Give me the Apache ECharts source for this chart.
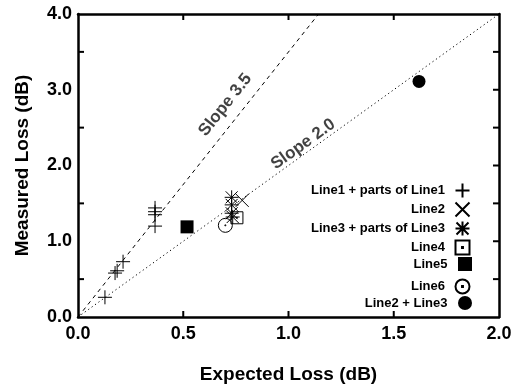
<!DOCTYPE html>
<html><head><meta charset="utf-8">
<script src="https://cdn.jsdelivr.net/npm/echarts@6/dist/echarts.min.js"></script>
<style>html,body{margin:0;padding:0;background:#fff}#c{width:523px;height:389px}</style>
</head><body><div id="c"></div>
<script>
// ---- data ----
const xTicks = [0, 0.5, 1.0, 1.5, 2.0];
const yTicks = [0, 1.0, 2.0, 3.0, 4.0];
const xTickMarks = [0.5, 1.0, 1.5];
const yTickMarksLeft = [0.5, 1.5, 2.5, 3.5];
const yTickMarksRight = [0.5, 1.0, 1.5, 2.0, 2.5, 3.0, 3.5];
const line1 = [[0.128,0.26],[0.176,0.58],[0.186,0.61],[0.214,0.73],[0.366,1.44],[0.366,1.39],[0.366,1.35],[0.366,1.20]];
const line2 = [[0.78,1.54]];
const line3 = [[0.73,1.58],[0.73,1.48],[0.73,1.37],[0.735,1.32]];
const line4 = [[0.755,1.31]];
const line5 = [[0.518,1.19]];
const line6 = [[0.70,1.21]];
const line23 = [[1.62,3.11]];
const slope35 = [[0,0],[1.143,4]];
const slope20 = [[0,0],[2,4]];
const slopeLabels = [{name:'Slope 3.5', value:[0.70,2.80], rot:51.6},{name:'Slope 2.0', value:[1.07,2.28], rot:35.7}];
const names = ['Line1 + parts of Line1','Line2','Line3 + parts of Line3','Line4','Line5','Line6','Line2 + Line3'];

const FONT = '"Liberation Sans", Arial, sans-serif';
const XMIN = xTicks[0], XMAX = xTicks[xTicks.length-1];
const YMIN = yTicks[0], YMAX = yTicks[yTicks.length-1];
const sym = {
  plus: 'path://M0,7 L14,7 M7,0 L7,14',
  cross: 'path://M0,0 L14,14 M14,0 L0,14',
  star: 'path://M0,7 L14,7 M7,0 L7,14 M1,1 L13,13 M13,1 L1,13',
  sq: 'path://M0,0 L12,0 L12,12 L0,12 Z M5.6,5.6 L6.4,5.6 L6.4,6.4 L5.6,6.4 Z',
  fsq: 'path://M0,0 L12,0 L12,12 L0,12 Z',
  circ: 'path://M13,7 A6,6 0 1 1 1,7 A6,6 0 1 1 13,7 Z M6.6,6.6 L7.4,6.6 L7.4,7.4 L6.6,7.4 Z',
  fcirc: 'circle'
};
function openSeries(name, data, symbol, size){
  return {name, type:'scatter', data, symbol, symbolSize:size, symbolKeepAspect:true,
    itemStyle:{color:'none', borderColor:'#000', borderWidth:1, opacity:1}, z:5};
}
function filledSeries(name, data, symbol, size){
  return {name, type:'scatter', data, symbol, symbolSize:size, symbolKeepAspect:true,
    itemStyle:{color:'#000', borderColor:'#000', borderWidth:0, opacity:1}, z:5};
}
const TL = 6, TW = 2;
function tickSeries(data, size, offset){
  return {type:'scatter', data, symbol:'rect', symbolSize:size, symbolOffset:offset,
    silent:true, clip:false, z:6, itemStyle:{color:'#000', opacity:1}};
}
const series = [
  openSeries(names[0], line1, sym.plus, 14),
  openSeries(names[1], line2, sym.cross, 13),
  openSeries(names[2], line3, sym.star, 14),
  openSeries(names[3], line4, sym.sq, 12),
  filledSeries(names[4], line5, sym.fsq, 13),
  openSeries(names[5], line6, sym.circ, 14),
  filledSeries(names[6], line23, sym.fcirc, 13),
  {type:'line', data:slope35, symbol:'none', silent:true,
    lineStyle:{color:'#000', width:1, type:[4,4]}, z:2},
  {type:'line', data:slope20, symbol:'none', silent:true,
    lineStyle:{color:'#000', width:1, type:[1.2,3]}, z:2},
  {type:'scatter', symbolSize:0, silent:true, z:3,
    data: slopeLabels.map(d=>({value:d.value, label:{rotate:d.rot}, name:d.name})),
    label:{show:true, position:'inside', formatter:p=>p.name, color:'#111',
      fontFamily:FONT, fontSize:17, fontWeight:'bold'}},
  // inward tick marks on the frame
  tickSeries(xTickMarks.map(v=>[v,YMIN]), [TW,TL], [0,-TL/2]),
  tickSeries(xTickMarks.map(v=>[v,YMAX]), [TW,TL], [0,TL/2]),
  tickSeries(yTickMarksLeft.map(v=>[XMIN,v]), [TL,TW], [TL/2,0]),
  tickSeries(yTickMarksRight.map(v=>[XMAX,v]), [TL,TW], [-TL/2,0])
];
const legendTops = [181,200,219,238,257,277,296];
const legends = names.map((n,i)=>({
  data:[n], right:51, top:legendTops[i], orient:'vertical', align:'right',
  itemWidth:25, itemHeight:14, padding:0, symbolKeepAspect:true,
  textStyle:{fontFamily:FONT, fontSize:13, fontWeight:'bold', color:'#000'},
  selectedMode:false
}));

const axisLine = {show:true, onZero:false, lineStyle:{color:'#000', width:2.5}};
const labelFont = {fontFamily:FONT, fontSize:18, fontWeight:'bold', color:'#000'};
const option = {
  backgroundColor:'#fff',
  animation:false,
  grid:{left:78, right:24, top:14, bottom:72},
  legend: legends,
  xAxis:[
    {type:'value', min:XMIN, max:XMAX, interval:0.5, position:'bottom',
      axisLine, axisTick:{show:false}, splitLine:{show:false},
      axisLabel:{...labelFont, margin:8, formatter:v=>v.toFixed(1)},
      name:'Expected Loss (dB)', nameLocation:'middle', nameGap:48,
      nameTextStyle:{fontFamily:FONT, fontSize:19, fontWeight:'bold', color:'#000'}},
    {type:'value', min:XMIN, max:XMAX, interval:0.5, position:'top',
      axisLine, axisTick:{show:false}, axisLabel:{show:false}, splitLine:{show:false}}
  ],
  yAxis:[
    {type:'value', min:YMIN, max:YMAX, interval:0.5, position:'left',
      axisLine, axisTick:{show:false}, splitLine:{show:false},
      axisLabel:{...labelFont, margin:6, formatter:v=>(yTicks.indexOf(v)>=0 ? v.toFixed(1) : '')},
      name:'Measured Loss (dB)', nameLocation:'middle', nameGap:46,
      nameTextStyle:{fontFamily:FONT, fontSize:19, fontWeight:'bold', color:'#000'}},
    {type:'value', min:YMIN, max:YMAX, interval:0.5, position:'right',
      axisLine, axisTick:{show:false}, axisLabel:{show:false}, splitLine:{show:false}}
  ],
  series
};
const chart = echarts.init(document.getElementById('c'), null, {renderer:'canvas'});
chart.setOption(option);
</script></body></html>
